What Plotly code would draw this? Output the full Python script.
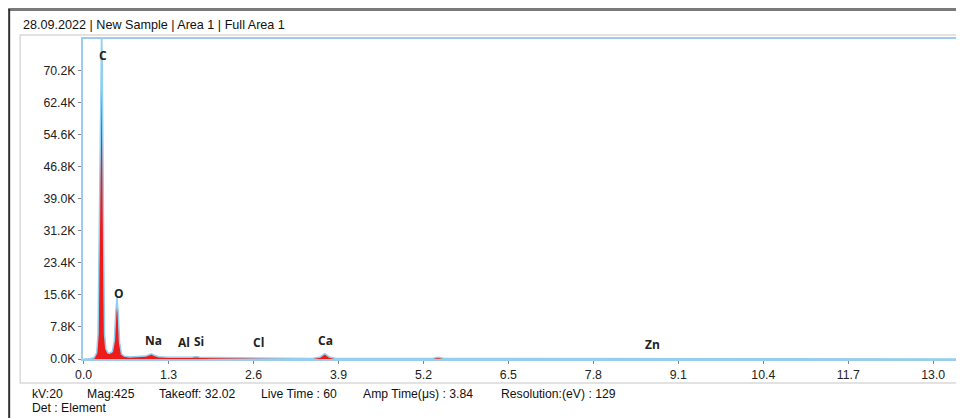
import plotly.graph_objects as go

# ---- data ----
energy_kev = [0.00, 0.10, 0.16, 0.20, 0.22, 0.24, 0.255, 0.265, 0.275, 0.285, 0.295, 0.31, 0.32,
              0.34, 0.37, 0.40, 0.44, 0.47, 0.49, 0.51, 0.53, 0.55, 0.58, 0.62, 0.70,
              0.85, 0.95, 1.01, 1.04, 1.08, 1.15, 1.30, 1.45, 1.49, 1.53, 1.65, 1.73,
              1.78, 2.00, 2.30, 2.55, 2.62, 2.68, 3.00, 3.50, 3.62, 3.69, 3.76, 3.85,
              4.00, 4.50, 5.20, 5.35, 5.42, 5.50, 5.70, 6.50, 8.00, 8.63, 10.0, 13.38]
counts = [0, 50, 300, 1500, 6000, 30000, 60000, 72000, 80000, 70000, 40000, 22000, 6000,
          2500, 1500, 1400, 1800, 4500, 11000, 14800, 11000, 4000, 1200, 700, 500,
          550, 700, 1100, 1250, 900, 550, 450, 420, 520, 400, 400, 620,
          430, 350, 280, 200, 300, 200, 180, 150, 500, 1300, 500, 150,
          150, 120, 100, 200, 450, 200, 100, 80, 60, 70, 40, 30]

element_labels = ["C", "O", "Na", "Al", "Si", "Cl", "Ca", "Zn"]
element_x = [0.29, 0.54, 1.07, 1.53, 1.77, 2.67, 3.70, 8.71]
element_y = [73900, 16000, 4600, 4000, 4300, 3900, 4600, 3500]

y_tickvals = [0, 7800, 15600, 23400, 31200, 39000, 46800, 54600, 62400, 70200]
y_ticktext = ["0.0K", "7.8K", "15.6K", "23.4K", "31.2K", "39.0K", "46.8K", "54.6K", "62.4K", "70.2K"]
x_tickvals = [0.0, 1.3, 2.6, 3.9, 5.2, 6.5, 7.8, 9.1, 10.4, 11.7, 13.0]
x_ticktext = ["0.0", "1.3", "2.6", "3.9", "5.2", "6.5", "7.8", "9.1", "10.4", "11.7", "13.0"]

title_text = "28.09.2022 | New Sample | Area 1 | Full Area 1"
footer_items = ["kV:20", "Mag:425", "Takeoff: 32.02", "Live Time : 60",
                "Amp Time(μs) : 3.84", "Resolution:(eV) : 129"]
footer_px = [30, 85, 157, 259, 362, 500]
footer2 = "Det : Element"

# ---- layout geometry (pixels, in page coordinates; page body has an 8px margin) ----
OFF = 8
W, H = 964 - OFF, 418 - OFF
L, R, T, B = 83 - OFF, 960 - OFF, 39 - OFF, 359 - OFF
pw, ph = R - L, B - T


def px(x):
    return (x - OFF - L) / pw


def py(y):
    return (B - (y - OFF)) / ph


fig = go.Figure()
fig.add_trace(go.Scatter(
    x=energy_kev, y=counts, mode="lines", fill="tozeroy",
    fillcolor="#ee1b1b", line=dict(color="#8fd0f0", width=1.5),
    hoverinfo="x+y", showlegend=False))

font_main = "Liberation Sans, Arial, sans-serif"

annotations = []
for lab, ex, ey in zip(element_labels, element_x, element_y):
    annotations.append(dict(x=ex, y=ey, xref="x", yref="y", text="<b>%s</b>" % lab,
                            showarrow=False, font=dict(family="Open Sans, sans-serif", size=12, color="#222")))

annotations.append(dict(x=px(21), y=py(25), xref="paper", yref="paper", text=title_text,
                        xanchor="left", yanchor="middle", showarrow=False,
                        font=dict(family=font_main, size=12.6, color="#111")))
for t, xp in zip(footer_items, footer_px):
    annotations.append(dict(x=px(xp), y=py(394), xref="paper", yref="paper", text=t,
                            xanchor="left", yanchor="middle", showarrow=False,
                            font=dict(family=font_main, size=12.2, color="#111")))
annotations.append(dict(x=px(30), y=py(408), xref="paper", yref="paper", text=footer2,
                        xanchor="left", yanchor="middle", showarrow=False,
                        font=dict(family=font_main, size=12.2, color="#111")))

shapes = [
    # inner light panel
    dict(type="rect", xref="paper", yref="paper", x0=px(20), x1=px(962), y0=py(35), y1=py(383),
         line=dict(color="#d9d9d9", width=1.5), fillcolor="rgba(0,0,0,0)", layer="below"),
    # outer top line
    dict(type="line", xref="paper", yref="paper", x0=px(8), x1=px(964), y0=py(9.5), y1=py(9.5),
         line=dict(color="#7a7a7a", width=3)),
    # outer left line
    dict(type="line", xref="paper", yref="paper", x0=px(9), x1=px(9), y0=py(9), y1=py(418),
         line=dict(color="#333333", width=2)),
]

fig.update_layout(
    width=W, height=H,
    margin=dict(l=L, r=W - R, t=T, b=H - B, pad=0),
    paper_bgcolor="white", plot_bgcolor="white",
    annotations=annotations, shapes=shapes,
    xaxis=dict(range=[-0.01, 13.38], tickvals=x_tickvals, ticktext=x_ticktext,
               showgrid=False, zeroline=False, showline=True, mirror=True,
               linecolor="#9ccbec", linewidth=2, ticks="outside", ticklen=3,
               tickcolor="#888", tickfont=dict(family=font_main, size=12.3, color="#222")),
    yaxis=dict(range=[0, 77800], tickvals=y_tickvals, ticktext=y_ticktext,
               showgrid=False, zeroline=False, showline=True, mirror=True,
               linecolor="#9ccbec", linewidth=2, ticks="outside", ticklen=3,
               tickcolor="#888", tickfont=dict(family=font_main, size=12.3, color="#222")),
)

fig.write_html("out.html")
